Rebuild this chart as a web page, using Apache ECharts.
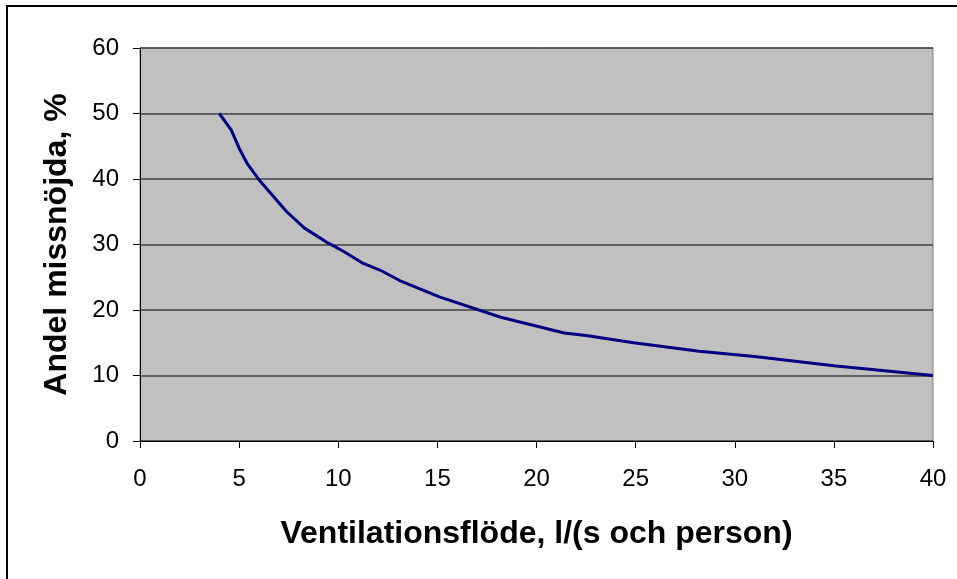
<!DOCTYPE html>
<html>
<head>
<meta charset="utf-8">
<script src="https://cdn.jsdelivr.net/npm/echarts@6/dist/echarts.min.js"></script>
<style>
  html, body { margin: 0; padding: 0; background: #fff; }
  #chart { width: 957px; height: 579px; }
</style>
</head>
<body>
<div id="chart"></div>
<script>
// flöde l/(s och person) och andel missnöjda %
var flow = [4, 4.6, 5, 5.4, 6, 7.4, 8.3, 9.5, 10.3, 11.2, 12.1, 13.1, 15.1, 18.2, 21.4, 22.5, 24.9, 28.2, 31, 35, 40];
var dissatisfied = [50, 47.5, 44.7, 42.4, 39.9, 35.0, 32.5, 30.2, 28.9, 27.2, 26.1, 24.5, 22.0, 18.9, 16.5, 16.1, 15.0, 13.7, 12.9, 11.5, 10];

var chart = echarts.init(document.getElementById('chart'));
var font = '"Liberation Sans", Arial, sans-serif';

var option = {
    backgroundColor: '#fff',
    animation: false,
    graphic: [{
        type: 'rect',
        shape: { x: 7, y: 6, width: 1000, height: 1000 },
        style: { fill: 'none', stroke: '#000', lineWidth: 2 }
    }],
    grid: {
        left: 140, right: 24, top: 48, bottom: 138,
        show: true,
        backgroundColor: '#c0c0c0',
        borderColor: '#808080',
        borderWidth: 1
    },
    xAxis: {
        type: 'value',
        min: 0, max: 40, interval: 5,
        name: 'Ventilationsflöde, l/(s och person)',
        nameLocation: 'middle',
        nameGap: 77,
        nameTextStyle: { color: '#000', fontSize: 32, fontWeight: 'bold', fontFamily: font },
        axisLine: { show: true, lineStyle: { color: '#000', width: 1 } },
        axisTick: { show: true, length: 7, lineStyle: { color: '#000' } },
        axisLabel: { color: '#000', fontSize: 24, fontFamily: font, margin: 26 },
        splitLine: { show: false }
    },
    yAxis: {
        type: 'value',
        min: 0, max: 60, interval: 10,
        name: 'Andel missnöjda, %',
        nameLocation: 'middle',
        nameGap: 67,
        nameTextStyle: { color: '#000', fontSize: 32, fontWeight: 'bold', fontFamily: font },
        axisLine: { show: true, lineStyle: { color: '#000', width: 1 } },
        axisTick: { show: true, length: 7, lineStyle: { color: '#000' } },
        axisLabel: { color: '#000', fontSize: 24, fontFamily: font, margin: 21 },
        splitLine: { show: true, lineStyle: { color: '#404040', width: 1.5 } }
    },
    series: [{
        type: 'line',
        data: flow.map(function (x, i) { return [x, dissatisfied[i]]; }),
        showSymbol: false,
        smooth: false,
        lineStyle: { color: '#000080', width: 3 }
    }]
};

chart.setOption(option);
</script>
</body>
</html>
